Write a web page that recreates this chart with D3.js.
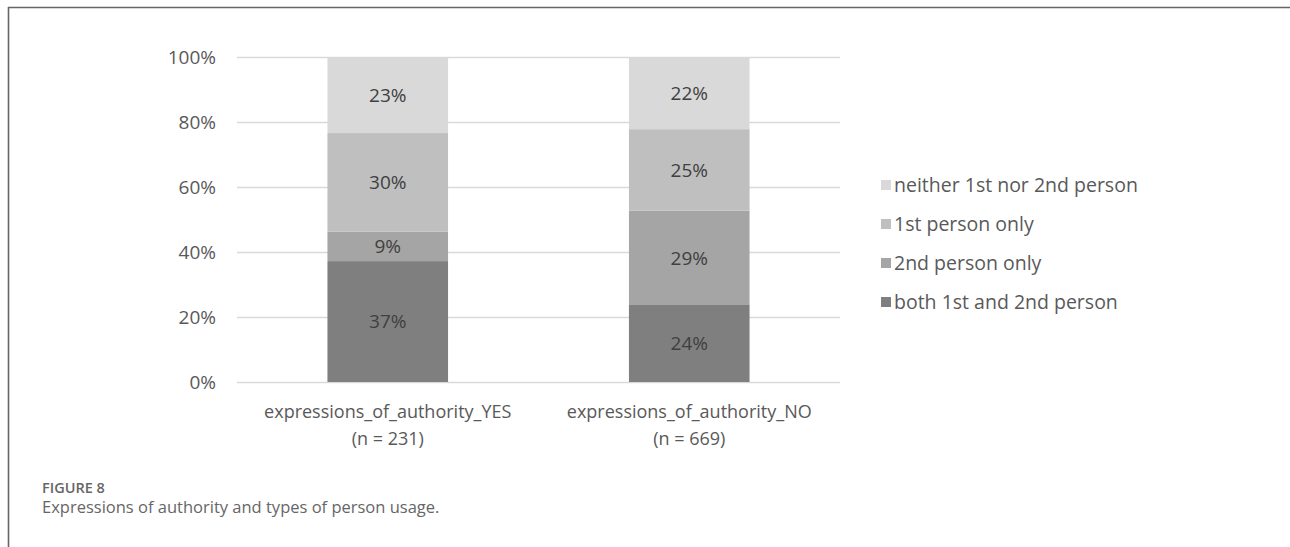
<!DOCTYPE html>
<html>
<head>
<meta charset="utf-8">
<script src="https://cdn.jsdelivr.net/npm/d3@7"></script>
<style>
  body { margin: 0; background: #fff; }
  svg { display: block; font-family: "Open Sans", sans-serif; }
</style>
</head>
<body>
<div id="chart"></div>
<script>
// categories (two lines each on the x axis)
var groups = ["expressions_of_authority_YES", "expressions_of_authority_NO"];
var groupN = ["(n = 231)", "(n = 669)"];

// series, bottom to top
var seriesNames = ["both 1st and 2nd person", "2nd person only", "1st person only", "neither 1st nor 2nd person"];
var seriesColors = ["#7f7f7f", "#a5a5a5", "#bfbfbf", "#d9d9d9"];

// percentages per series, one value per group
var bothVals = [37.2, 23.7];
var secondVals = [9.1, 29.0];
var firstVals = [30.3, 25.1];
var neitherVals = [23.4, 22.2];

var yTicks = [0, 20, 40, 60, 80, 100];

var W = 1290, H = 547;
var margin = {top: 57, left: 237, right: 450, bottom: 165};
var width = W - margin.left - margin.right,
    height = H - margin.top - margin.bottom;

var svg = d3.select("#chart").append("svg")
  .attr("width", W)
  .attr("height", H);

// frame of the figure
svg.append("line").attr("x1", 8).attr("x2", W).attr("y1", 7.5).attr("y2", 7.5)
  .style("stroke", "#666").style("stroke-width", 1.6);
svg.append("line").attr("x1", 8.5).attr("x2", 8.5).attr("y1", 7).attr("y2", H)
  .style("stroke", "#666").style("stroke-width", 1.6);

var g = svg.append("g")
  .attr("transform", "translate(" + margin.left + "," + margin.top + ")");

var x = d3.scaleBand()
  .domain(groups)
  .range([0, width])
  .paddingInner(0.6)
  .paddingOuter(0.3);

var y = d3.scaleLinear()
  .domain([0, 100])
  .range([height, 0]);

// gridlines + y labels
var yAxis = g.append("g")
  .call(d3.axisLeft(y).tickValues(yTicks).tickSize(-width).tickFormat(function(d){ return d + "%"; }));
yAxis.select(".domain").remove();
yAxis.selectAll(".tick line").style("stroke", "#d9d9d9").style("stroke-width", 1.3);
yAxis.selectAll(".tick text")
  .attr("x", -21)
  .style("font-size", "19px")
  .style("font-family", "Open Sans")
  .style("fill", "#595959");

// stack the data
var rows = groups.map(function(grp, i) {
  return {group: grp, s0: bothVals[i], s1: secondVals[i], s2: firstVals[i], s3: neitherVals[i]};
});
var stack = d3.stack().keys(["s0", "s1", "s2", "s3"]);
var layers = stack(rows);

var layerG = g.selectAll(".layer")
  .data(layers)
  .enter().append("g")
  .attr("class", "layer")
  .style("fill", function(d, i) { return seriesColors[i]; });

layerG.selectAll("rect")
  .data(function(d) { return d; })
  .enter().append("rect")
  .attr("x", function(d) { return x(d.data.group); })
  .attr("y", function(d) { return y(d[1]); })
  .attr("width", x.bandwidth())
  .attr("height", function(d) { return y(d[0]) - y(d[1]); });

// value labels
layerG.selectAll("text")
  .data(function(d) { return d; })
  .enter().append("text")
  .attr("x", function(d) { return x(d.data.group) + x.bandwidth() / 2; })
  .attr("y", function(d) { return (y(d[0]) + y(d[1])) / 2; })
  .attr("dy", "0.35em")
  .attr("text-anchor", "middle")
  .style("font-size", "19px")
  .style("fill", "#404040")
  .text(function(d) { return Math.round(d[1] - d[0]) + "%"; });

// x axis labels
var xl = g.append("g").attr("transform", "translate(0," + height + ")");
groups.forEach(function(grp, i) {
  var t = xl.append("text")
    .attr("text-anchor", "middle")
    .style("font-size", "18px")
    .style("fill", "#595959");
  t.append("tspan").attr("x", x(grp) + x.bandwidth() / 2).attr("y", 36).text(grp);
  t.append("tspan").attr("x", x(grp) + x.bandwidth() / 2).attr("y", 63).text(groupN[i]);
});

// legend, top item is the last series
var legend = svg.append("g").attr("transform", "translate(881,185)");
var legendOrder = d3.range(seriesNames.length).reverse();
legendOrder.forEach(function(si, k) {
  var item = legend.append("g").attr("transform", "translate(0," + (k * 39) + ")");
  item.append("rect").attr("x", 0).attr("y", -5).attr("width", 10).attr("height", 10)
    .style("fill", seriesColors[si]);
  item.append("text").attr("x", 13).attr("dy", "0.35em")
    .style("font-size", "19.5px")
    .style("fill", "#595959")
    .text(seriesNames[si]);
});

// caption
svg.append("text").attr("x", 42).attr("y", 493)
  .style("font-size", "14.5px").style("font-weight", "600").style("fill", "#666")
  .text("FIGURE 8");
svg.append("text").attr("x", 42).attr("y", 513)
  .style("font-size", "16.5px").style("fill", "#666")
  .text("Expressions of authority and types of person usage.");
</script>
</body>
</html>
